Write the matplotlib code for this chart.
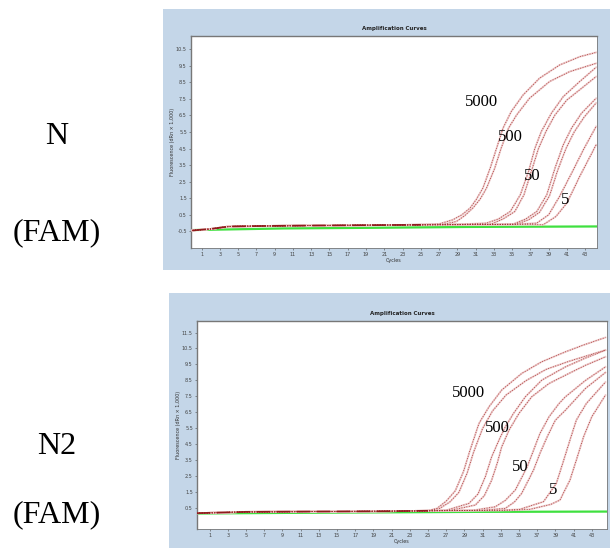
import matplotlib
matplotlib.use("Agg")
import matplotlib.pyplot as plt
from matplotlib.patches import Rectangle

# x ticks (cycles) and y tick labels, same layout on both panels
cycle_ticks = list(range(1, 44, 2))
ytick_pos = list(range(12))
ytick_labels_top = ['-0.5', '0.5', '1.5', '2.5', '3.5', '4.5', '5.5', '6.5', '7.5', '8.5', '9.5', '10.5']
ytick_labels_bot = ['0.5', '1.5', '2.5', '3.5', '4.5', '5.5', '6.5', '7.5', '8.5', '9.5', '10.5', '11.5']

copies = ['5000', '500', '50', '5']

# ---- N (FAM) panel ----
base_top_c = [0, 2, 4, 8, 14, 20, 25]
base_top_v = [0.06, 0.15, 0.30, 0.33, 0.36, 0.38, 0.40]
green_top_c = [-0.2, 10, 20, 30, 44.3]
green_top_v = [0.08, 0.18, 0.22, 0.27, 0.30]

top_c = [
    [27.0, 28.5, 29.5, 30.4, 31.1, 31.8, 32.6, 33.3, 34.0, 34.9, 36.2, 38.0, 40.2, 42.4, 44.2],
    [27.5, 28.9, 29.8, 30.7, 31.5, 32.2, 33.1, 33.8, 34.6, 35.5, 36.9, 39.1, 41.3, 44.2],
    [29.0, 32.2, 33.5, 34.8, 35.9, 36.8, 37.5, 38.2, 39.3, 40.6, 42.4, 44.2],
    [29.5, 32.7, 34.0, 35.3, 36.3, 37.1, 37.9, 38.7, 39.7, 41.0, 42.6, 44.2],
    [32.0, 35.1, 36.5, 37.7, 38.8, 39.7, 40.6, 41.5, 42.6, 44.2],
    [32.5, 35.4, 36.8, 38.0, 39.1, 40.0, 40.9, 41.8, 42.9, 44.2],
    [33.0, 36.0, 37.7, 39.0, 40.2, 41.7, 42.8, 44.2],
    [34.0, 37.0, 38.4, 39.8, 41.0, 42.4, 44.2],
]
top_v = [
    [0.45, 0.70, 1.00, 1.41, 1.95, 2.61, 3.82, 5.02, 6.22, 7.23, 8.23, 9.24, 10.04, 10.54, 10.80],
    [0.43, 0.60, 0.95, 1.41, 1.95, 2.61, 3.82, 5.02, 6.22, 7.03, 8.03, 9.04, 9.64, 10.14],
    [0.42, 0.50, 0.75, 1.20, 2.21, 3.61, 5.02, 6.02, 7.13, 8.13, 9.04, 9.90],
    [0.42, 0.44, 0.75, 1.20, 2.21, 3.61, 5.02, 6.02, 7.03, 7.93, 8.63, 9.34],
    [0.42, 0.44, 0.75, 1.20, 2.21, 3.82, 5.22, 6.22, 7.13, 8.03],
    [0.42, 0.42, 0.70, 1.15, 2.15, 3.70, 5.00, 6.00, 6.90, 7.75],
    [0.42, 0.45, 0.50, 1.00, 2.11, 3.71, 4.92, 6.33],
    [0.42, 0.42, 0.40, 0.90, 1.71, 3.31, 5.22],
]
top_label_c = [31.6, 34.8, 37.2, 40.8]
top_label_v = [7.83, 5.72, 3.37, 1.91]

# ---- N2 (FAM) panel ----
base_bot_c = [-0.4, 5, 12, 20, 25]
base_bot_v = [-0.30, -0.22, -0.20, -0.18, -0.15]
green_bot_c = [-0.4, 10, 20, 30, 44.6]
green_bot_v = [-0.32, -0.28, -0.25, -0.22, -0.20]

bot_c = [
    [26.0, 27.0, 28.0, 28.9, 29.6, 30.6, 31.7, 33.1, 35.3, 37.5, 40.1, 42.0, 44.5],
    [26.3, 27.4, 28.4, 29.3, 30.0, 31.0, 32.1, 33.6, 35.8, 38.0, 40.5, 44.5],
    [27.0, 29.5, 30.5, 31.3, 32.0, 32.8, 33.5, 34.4, 35.7, 37.5, 40.1, 42.3, 44.5],
    [27.5, 30.2, 31.2, 32.0, 32.6, 33.1, 33.9, 35.0, 36.4, 38.3, 40.1, 42.3, 44.5],
    [30.0, 32.4, 33.5, 34.6, 35.9, 36.6, 37.3, 38.3, 39.4, 40.1, 42.3, 44.5],
    [31.0, 33.5, 34.5, 35.3, 36.6, 37.3, 38.1, 39.0, 40.1, 42.3, 44.5],
    [33.0, 35.1, 37.7, 39.1, 39.8, 40.6, 41.3, 42.4, 44.5],
    [34.0, 36.2, 38.5, 39.5, 40.6, 41.3, 42.1, 43.0, 44.5],
]
bot_v = [
    [0.0, 0.45, 1.1, 2.3, 3.6, 5.31, 6.35, 7.40, 8.44, 9.17, 9.79, 10.2, 10.69],
    [0.0, 0.4, 1.0, 2.2, 3.5, 5.0, 6.1, 7.1, 8.0, 8.7, 9.2, 9.9],
    [-0.12, 0.31, 0.9, 1.98, 3.23, 4.27, 5.1, 5.94, 6.98, 8.02, 8.85, 9.4, 9.9],
    [-0.12, 0.21, 0.8, 1.77, 2.81, 3.85, 4.89, 5.94, 6.98, 7.81, 8.33, 8.95, 9.48],
    [-0.12, 0.1, 0.5, 1.15, 2.6, 3.64, 4.68, 5.73, 6.56, 6.98, 8.0, 8.85],
    [-0.12, 0.0, 0.4, 0.94, 2.4, 3.44, 4.48, 5.52, 6.14, 7.5, 8.5],
    [-0.12, -0.06, 0.42, 1.56, 2.81, 4.27, 5.52, 6.56, 7.9],
    [-0.12, -0.06, 0.25, 0.52, 1.77, 3.02, 4.48, 5.73, 7.08],
]
bot_label_c = [29.5, 32.6, 35.1, 38.7]
bot_label_v = [7.19, 5.0, 2.6, 1.14]

W, H = 610, 551
fig = plt.figure(figsize=(6.1, 5.51), dpi=100)
fig.patch.set_facecolor('white')

def px_box(x0, y0, x1, y1):
    # pixel box (top-left origin) -> figure fraction rect
    return [x0 / W, 1 - y1 / H, (x1 - x0) / W, (y1 - y0) / H]

bg = '#c4d6e8'
for box in [(163, 9, 610, 270), (169, 293, 610, 548)]:
    r = px_box(*box)
    fig.patches.append(Rectangle((r[0], r[1]), r[2], r[3], transform=fig.transFigure,
                                 facecolor=bg, edgecolor='none', zorder=-1))


def draw_panel(ax, base_c, base_v, green_c, green_v, curves_c, curves_v,
               lab_c, lab_v, ylabels, xlim, ylim):
    ax.set_facecolor('white')
    ax.plot(green_c, green_v, color='#3fe03f', lw=1.6, zorder=2)
    for cc, vv in zip(curves_c, curves_v):
        xs = base_c + cc
        ys = base_v + vv
        ax.plot(xs, ys, color='#ecc8c8', lw=1.3, zorder=3, solid_joinstyle='round')
        ax.plot(xs, ys, color='#a53030', lw=0.6, ls=(0, (1, 2)), zorder=4)
    ax.plot(base_c, base_v, color='#8e1c1c', lw=1.2, ls=(0, (8, 4)), zorder=5)
    for t, c, v in zip(copies, lab_c, lab_v):
        ax.text(c, v, t, fontsize=12, family='Liberation Serif', ha='center', va='center', zorder=6)
    ax.set_xlim(*xlim)
    ax.set_ylim(*ylim)
    ax.set_xticks(cycle_ticks)
    ax.set_xticklabels([str(t) for t in cycle_ticks])
    ax.set_yticks(ytick_pos)
    ax.set_yticklabels(ylabels)
    ax.tick_params(labelsize=3.5, length=1.5, width=0.4, pad=1.5, colors='#444444')
    for s in ax.spines.values():
        s.set_color('#777777')
        s.set_linewidth(0.6)
    ax.spines['top'].set_linewidth(1.0)
    ax.spines['left'].set_linewidth(1.0)
    ax.set_title('Amplification Curves', fontsize=4, fontweight='bold', pad=4, color='#222222')
    ax.set_xlabel('Cycles', fontsize=3.5, labelpad=0.5, color='#333333')
    ax.set_ylabel('Fluorescence (dRn \u00d7 1,000)', fontsize=3.5, labelpad=1, color='#333333')


ax1 = fig.add_axes(px_box(191, 36, 597, 248))
draw_panel(ax1, base_top_c, base_top_v, green_top_c, green_top_v, top_c, top_v,
           top_label_c, top_label_v, ytick_labels_top, (-0.17, 44.3), (-1.0, 11.79))

ax2 = fig.add_axes(px_box(197, 321, 607, 529))
draw_panel(ax2, base_bot_c, base_bot_v, green_bot_c, green_bot_v, bot_c, bot_v,
           bot_label_c, bot_label_v, ytick_labels_bot, (-0.38, 44.67), (-1.29, 11.72))

# side labels
serif = 'Liberation Serif'
fig.text(57 / W, 1 - 136 / H, 'N', family=serif, fontsize=23, ha='center', va='center')
fig.text(57 / W, 1 - 233 / H, '(FAM)', family=serif, fontsize=23, ha='center', va='center')
fig.text(57 / W, 1 - 447 / H, 'N2', family=serif, fontsize=23, ha='center', va='center')
fig.text(57 / W, 1 - 515 / H, '(FAM)', family=serif, fontsize=23, ha='center', va='center')

fig.savefig('out.png', dpi=100)
